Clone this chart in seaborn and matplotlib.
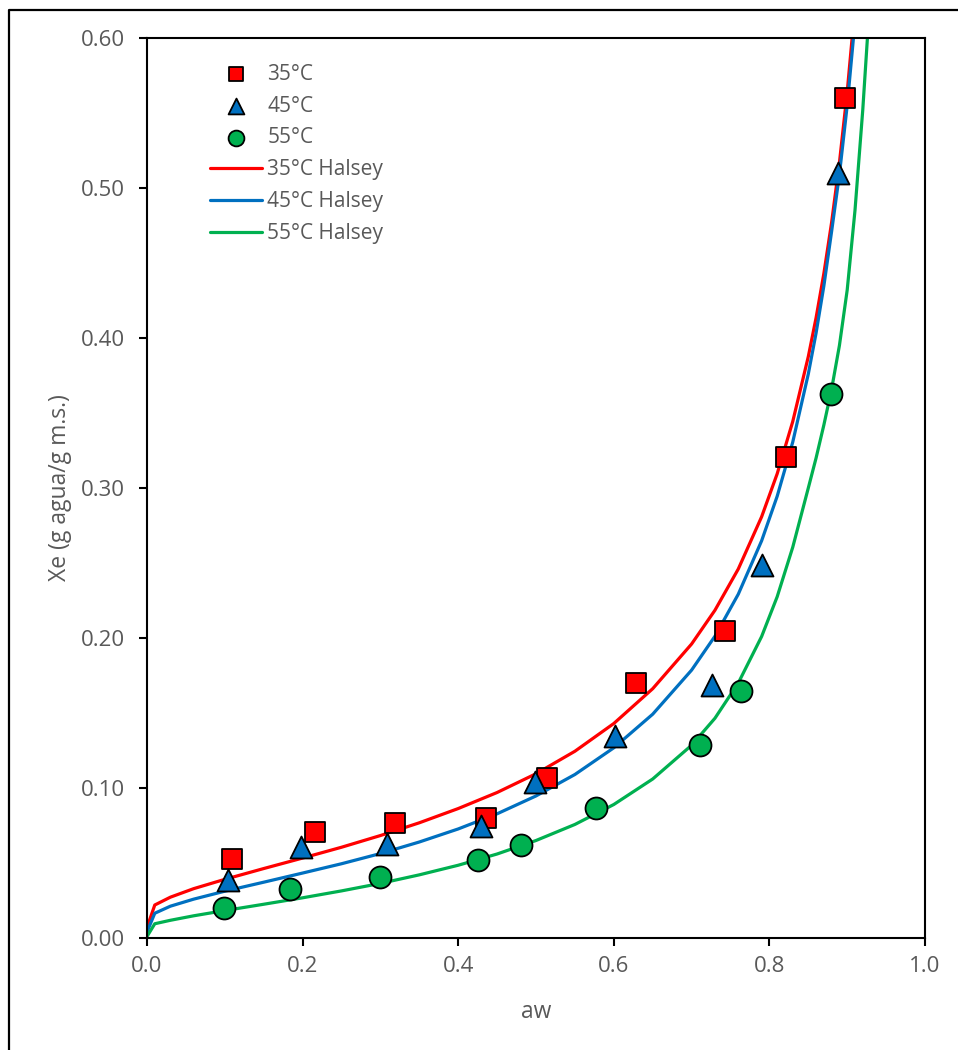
import matplotlib
matplotlib.use("Agg")
import matplotlib.pyplot as plt
from matplotlib.lines import Line2D
from matplotlib.ticker import FormatStrFormatter, MultipleLocator
import seaborn as sns
import pandas as pd

aw_35 = [0.109, 0.216, 0.319, 0.436, 0.514, 0.629, 0.743, 0.821, 0.897]
xe_35 = [0.053, 0.071, 0.077, 0.080, 0.107, 0.170, 0.205, 0.321, 0.560]
aw_45 = [0.104, 0.198, 0.308, 0.429, 0.499, 0.602, 0.726, 0.790, 0.888]
xe_45 = [0.039, 0.061, 0.063, 0.075, 0.104, 0.135, 0.169, 0.249, 0.510]
aw_55 = [0.099, 0.184, 0.299, 0.425, 0.481, 0.577, 0.711, 0.763, 0.879]
xe_55 = [0.020, 0.033, 0.041, 0.052, 0.062, 0.087, 0.129, 0.165, 0.363]

# Halsey curves
fit_aw = [0.00, 0.01, 0.03, 0.06, 0.10, 0.15, 0.20, 0.25, 0.30, 0.35, 0.40, 0.45,
          0.50, 0.55, 0.60, 0.65, 0.70, 0.73, 0.76, 0.79, 0.81, 0.83, 0.85, 0.86,
          0.87, 0.88, 0.89, 0.90, 0.91, 0.915]
fit_xe_35 = [0.0070, 0.0220, 0.0272, 0.0329, 0.0391, 0.0463, 0.0533, 0.0605, 0.0683,
             0.0768, 0.0863, 0.0970, 0.1095, 0.1245, 0.1430, 0.1662, 0.1960, 0.2185,
             0.2460, 0.2808, 0.3095, 0.3443, 0.3876, 0.4135, 0.4430, 0.4772, 0.5169,
             0.5640, 0.6210, 0.6550]
fit_xe_45 = [0.0040, 0.0165, 0.0212, 0.0259, 0.0312, 0.0372, 0.0433, 0.0495, 0.0563,
             0.0640, 0.0727, 0.0828, 0.0947, 0.1090, 0.1268, 0.1492, 0.1786, 0.2012,
             0.2292, 0.2648, 0.2945, 0.3306, 0.3760, 0.4033, 0.4347, 0.4712, 0.5090,
             0.5550, 0.6110, 0.6450]
fit_aw_55 = [0.00, 0.01, 0.03, 0.06, 0.10, 0.15, 0.20, 0.25, 0.30, 0.35, 0.40, 0.45,
             0.50, 0.55, 0.60, 0.65, 0.70, 0.73, 0.76, 0.79, 0.81, 0.83, 0.85, 0.86,
             0.87, 0.88, 0.89, 0.90, 0.91, 0.92, 0.926, 0.93]
fit_xe_55 = [0.0010, 0.0095, 0.0118, 0.0148, 0.0183, 0.0225, 0.0268, 0.0314, 0.0364,
             0.0421, 0.0485, 0.0560, 0.0650, 0.0757, 0.0890, 0.1060, 0.1285, 0.1465,
             0.1700, 0.2010, 0.2275, 0.2605, 0.3000, 0.3200, 0.3420, 0.3660, 0.3950,
             0.4320, 0.4850, 0.5520, 0.6000, 0.6350]

sns.set_style("white")
plt.rcParams["font.family"] = ["Open Sans", "DejaVu Sans"]
gray = "#595959"

fig = plt.figure(figsize=(9.58, 10.5), dpi=100)
ax = fig.add_axes([147 / 958, 112 / 1050, 778 / 958, 900 / 1050])

series = [
    ("35°C", aw_35, xe_35, "s", 190, "#FF0000"),
    ("45°C", aw_45, xe_45, "^", 250, "#0070C0"),
    ("55°C", aw_55, xe_55, "o", 250, "#00B050"),
]
for label, x, y, m, s, c in series:
    df = pd.DataFrame({"aw": x, "xe": y})
    sns.scatterplot(data=df, x="aw", y="xe", marker=m, s=s, color=c,
                    edgecolor="black", linewidth=1.3, label=label, ax=ax, zorder=3)

fits = [
    ("35°C Halsey", fit_aw, fit_xe_35, "#FF0000"),
    ("45°C Halsey", fit_aw, fit_xe_45, "#0070C0"),
    ("55°C Halsey", fit_aw_55, fit_xe_55, "#00B050"),
]
for label, x, y, c in fits:
    df = pd.DataFrame({"aw": x, "xe": y})
    sns.lineplot(data=df, x="aw", y="xe", color=c, linewidth=2.3, sort=False,
                 estimator=None, label=label, ax=ax, zorder=2)

ax.set_xlim(0, 1.0)
ax.set_ylim(0, 0.60)
ax.xaxis.set_major_locator(MultipleLocator(0.2))
ax.yaxis.set_major_locator(MultipleLocator(0.10))
ax.xaxis.set_major_formatter(FormatStrFormatter("%.1f"))
ax.yaxis.set_major_formatter(FormatStrFormatter("%.2f"))
ax.tick_params(axis="both", direction="out", length=6, width=1.5, color="black",
               labelsize=16, labelcolor=gray)
ax.tick_params(axis="y", pad=10)
ax.tick_params(axis="x", pad=7)
ax.tick_params(left=True, bottom=True)
for sp in ax.spines.values():
    sp.set_color("black")
    sp.set_linewidth(1.5)

ax.set_xlabel("aw", fontsize=16.5, color=gray)
ax.set_ylabel("Xe (g agua/g m.s.)", fontsize=16.5, color=gray)
ax.xaxis.set_label_coords(0.5, -0.069)
ax.yaxis.set_label_coords(-0.097, 0.5)

leg = ax.legend(loc="upper left", bbox_to_anchor=(0.081, 0.9714), frameon=False,
                fontsize=15, handlelength=2.5, handletextpad=0.25, labelspacing=0.52,
                borderpad=0, borderaxespad=0, markerscale=0.72)
for t in leg.get_texts():
    t.set_color(gray)

# outer chart border (only left and top are visible in the crop)
x0 = 9 / 958
y0 = 1 - 10 / 1050
fig.add_artist(Line2D([x0, x0, 1.01], [-0.01, y0, y0], transform=fig.transFigure,
                      color="black", linewidth=1.6, clip_on=False))

fig.savefig("out.png", dpi=100)
